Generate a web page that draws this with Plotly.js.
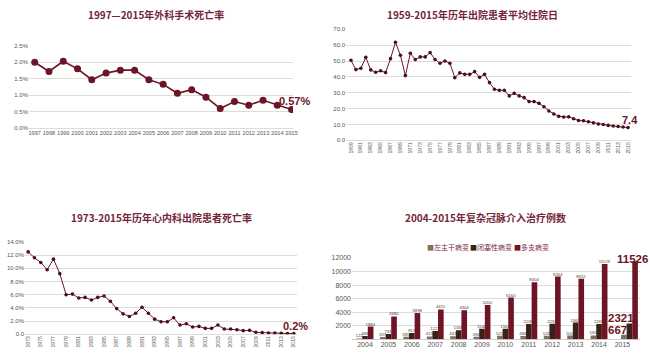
<!DOCTYPE html>
<html>
<head>
<meta charset="utf-8">
<script src="https://cdn.plot.ly/plotly-3.0.1.min.js"></script>
<style>
html,body{margin:0;padding:0;background:#fff;}
#chart{width:650px;height:358px;}
</style>
</head>
<body>
<div id="chart"></div>
<script>
// ---- Chart 1: 1997-2015 surgical mortality (%)
var years1 = [1997,1998,1999,2000,2001,2002,2003,2004,2005,2006,2007,2008,2009,2010,2011,2012,2013,2014,2015];
var surgMort = [2.0,1.72,2.03,1.8,1.47,1.67,1.76,1.76,1.47,1.33,1.06,1.17,0.94,0.6,0.81,0.7,0.85,0.7,0.57];
var surgLabel = "0.57%";

// ---- Chart 2: 1959-2015 average length of stay (days)
var years2 = [];
for (var y = 1959; y <= 2015; y++) years2.push(y);
var stayDays = [50.5,44.6,45.4,52.3,44.4,42.9,43.9,42.7,51.5,61.8,53.6,40.8,54.9,50.9,52.6,52.6,55.3,51.0,48.6,50.0,
                48.6,39.5,42.5,41.6,41.6,43.3,39.7,41.6,36.4,32.2,31.5,31.5,28.0,29.6,28.0,26.9,24.4,24.4,23.3,21.2,
                18.5,16.6,15.1,14.7,14.8,13.6,12.5,12.3,11.7,11.0,10.3,10.0,9.4,9.0,8.7,8.4,8.0];
var stayLabel = "7.4";

// ---- Chart 3: 1973-2015 cardiology mortality (%)
var years3 = [];
for (var y3 = 1973; y3 <= 2015; y3++) years3.push(y3);
var cardMort = [12.5,11.6,10.9,9.8,11.4,9.2,6.0,6.1,5.5,5.6,5.2,5.6,5.8,5.0,3.9,3.1,2.7,3.2,4.1,3.2,
                2.3,1.9,1.9,2.5,1.4,1.6,1.1,1.2,0.9,0.9,1.4,0.8,0.8,0.7,0.55,0.6,0.3,0.25,0.2,0.2,0.15,0.12,0.12];
var cardLabel = "0.2%";

// ---- Chart 4: 2004-2015 complex PCI cases
var years4 = [2004,2005,2006,2007,2008,2009,2010,2011,2012,2013,2014,2015];
var seriesNames = ["左主干病变","闭塞性病变","多支病变"];
var leftMain = [122,337,385,415,432,394,521,484,529,550,565,667];
var occlusive = [498,791,913,1221,1330,1548,1563,2245,2291,2463,2265,2321];
var multiVessel = [1884,3380,3898,4411,4304,5050,6160,8404,9264,8922,11129,11526];

var titles = ["1997—2015年外科手术死亡率","1959-2015年历年出院患者平均住院日",
              "1973-2015年历年心内科出院患者死亡率","2004-2015年复杂冠脉介入治疗例数"];

var maroon = "#6b1626";
var titleColor = "#74253a";
var barColors = ["#7f7064","#3c2117","#6e1424"];
var grid = "#dcdcdc";
var tickC = "#555555";
var FONT = "'Noto Sans CJK SC', 'Noto Sans', sans-serif";
var NUMFONT = "'Liberation Sans', Arial, sans-serif";

function every2(arr){ return arr.filter(function(v,i){return i%2===0;}); }

var traces = [];
traces.push({x:years1, y:surgMort, xaxis:'x', yaxis:'y', type:'scatter', mode:'lines+markers',
  line:{color:maroon, width:1.6}, marker:{color:maroon, size:7}, hoverinfo:'none'});
traces.push({x:years2, y:stayDays, xaxis:'x2', yaxis:'y2', type:'scatter', mode:'lines+markers',
  line:{color:maroon, width:1}, marker:{color:'#4a0f1a', size:3.6}, hoverinfo:'none'});
traces.push({x:years3, y:cardMort, xaxis:'x3', yaxis:'y3', type:'scatter', mode:'lines+markers',
  line:{color:maroon, width:1}, marker:{color:'#4a0f1a', size:3.6}, hoverinfo:'none'});

// grouped bars; the final (2015) group is nudged right to leave room for its callouts
var barW = 0.24, lastShift = 0.3;
var barSeries = [leftMain, occlusive, multiVessel];
barSeries.forEach(function(vals, k){
  var base = -0.36 + k*barW;
  traces.push({x:years4, y:vals, xaxis:'x4', yaxis:'y4', type:'bar', name:seriesNames[k],
    marker:{color:barColors[k]}, width:barW,
    offset: vals.map(function(v,i){ return i === vals.length-1 ? base + lastShift : base; }),
    text: vals.map(function(v,i){ return i === vals.length-1 ? '' : String(v); }),
    textposition:'outside', constraintext:'none', cliponaxis:false,
    textfont:{size:4.3, color:'#444', family:NUMFONT}, hoverinfo:'none'});
});

function px(x){ return x/650; }
function py(y){ return 1 - y/358; }

var axTick = {family:NUMFONT, size:6, color:tickC};

var layout = {
  width:650, height:358,
  margin:{l:0,r:0,t:0,b:0},
  paper_bgcolor:'#fff', plot_bgcolor:'rgba(0,0,0,0)',
  showlegend:false,
  font:{family:FONT},
  barmode:'overlay',
  xaxis:{domain:[px(29),px(293)], range:[1996.6,2015.1], anchor:'y', tickvals:years1,
    ticktext:years1.map(String), tickfont:{family:NUMFONT,size:5.6,color:tickC}, tickangle:0,
    showgrid:false, zeroline:false, showline:false, ticks:''},
  yaxis:{domain:[py(128.3),py(45.7)], range:[0,2.5], anchor:'x', dtick:0.5, tickformat:'.1f', ticksuffix:'%',
    tickfont:axTick, gridcolor:grid, gridwidth:1, zeroline:true, zerolinecolor:grid, showline:false, ticks:''},
  xaxis2:{domain:[px(346),px(631)], range:[1958,2015.6], anchor:'y2', tickvals:every2(years2),
    ticktext:every2(years2).map(String), tickangle:-90, tickfont:{family:NUMFONT,size:5,color:tickC},
    showgrid:false, zeroline:false, showline:false, ticks:''},
  yaxis2:{domain:[py(140.3),py(29.3)], range:[0,70], anchor:'x2', dtick:10, tickformat:'.1f',
    tickfont:axTick, gridcolor:grid, zeroline:true, zerolinecolor:grid, showline:false, ticks:''},
  xaxis3:{domain:[px(25),px(297)], range:[1972.5,2015.5], anchor:'y3', tickvals:every2(years3),
    ticktext:every2(years3).map(String), tickangle:-90, tickfont:{family:NUMFONT,size:5,color:tickC},
    showgrid:false, zeroline:false, showline:false, ticks:''},
  yaxis3:{domain:[py(334.3),py(242)], range:[0,14], anchor:'x3', tickvals:[0,2,4,6,8,10,12,14],
    ticktext:['0.0','2.0%','4.0%','6.0%','8.0%','10.0%','12.0%','14.0%'],
    tickfont:axTick, gridcolor:grid, zeroline:true, zerolinecolor:grid, showline:false, ticks:''},
  xaxis4:{domain:[px(352),px(640)], range:[2003.444,2015.75], anchor:'y4', tickvals:years4,
    ticktext:years4.map(String), tickfont:{family:NUMFONT,size:7,color:tickC},
    showgrid:false, zeroline:false, showline:false, ticks:''},
  yaxis4:{domain:[py(339.3),py(258)], range:[0,12000], anchor:'x4', tickvals:[2000,4000,6000,8000,10000,12000],
    ticktext:['2000','4000','6000','8000','10000','12000'],
    tickfont:{family:NUMFONT,size:7,color:tickC}, gridcolor:grid, zeroline:true, zerolinecolor:'#cfcfcf', showline:false, ticks:''},
  annotations:[]
};

// Titles
var titlePos = [[156,14],[473,14],[161,217],[485,217]];
titles.forEach(function(t,i){
  layout.annotations.push({text:'<b>'+t+'</b>', xref:'paper', yref:'paper', x:px(titlePos[i][0]), y:py(titlePos[i][1]),
    xanchor:'center', yanchor:'middle', showarrow:false, font:{family:FONT, size:10, color:titleColor}});
});

// End-value callouts (anchored to the final data points)
var callFont = {family:NUMFONT, size:11, color:maroon};
layout.annotations.push({text:'<b>'+surgLabel+'</b>', xref:'x', yref:'y', x:years1[years1.length-1],
  y:surgMort[surgMort.length-1], xanchor:'center', yanchor:'middle', xshift:3, yshift:8.5, showarrow:false,
  font:callFont});
layout.annotations.push({text:'<b>'+stayLabel+'</b>', xref:'x2', yref:'y2', x:years2[years2.length-1],
  y:stayDays[stayDays.length-1], xanchor:'center', yanchor:'middle', xshift:2, yshift:8, showarrow:false,
  font:callFont});
layout.annotations.push({text:'<b>'+cardLabel+'</b>', xref:'x3', yref:'y3', x:years3[years3.length-1],
  y:cardMort[cardMort.length-1], xanchor:'center', yanchor:'middle', xshift:2, yshift:7.5, showarrow:false,
  font:callFont});

// 2015 bar callouts
var last = years4.length-1;
var bigFont = {family:NUMFONT, size:11.5, color:maroon};
layout.annotations.push({text:'<b>'+multiVessel[last]+'</b>', xref:'x4', yref:'y4', x:years4[last],
  y:multiVessel[last], xanchor:'left', yanchor:'middle', xshift:-6, yshift:2, showarrow:false, font:bigFont, borderpad:0});
layout.annotations.push({text:'<b>'+occlusive[last]+'</b>', xref:'x4', yref:'y4', x:years4[last],
  y:occlusive[last], xanchor:'left', yanchor:'middle', xshift:-15, yshift:6, showarrow:false, font:bigFont, borderpad:0});
layout.annotations.push({text:'<b>'+leftMain[last]+'</b>', xref:'x4', yref:'y4', x:years4[last],
  y:leftMain[last], xanchor:'left', yanchor:'middle', xshift:-15, yshift:4.5, showarrow:false, font:bigFont, borderpad:0});

// Legend for bar chart
var legX = [425, 468, 512];
seriesNames.forEach(function(n,i){
  layout.annotations.push({text:'<span style="color:'+barColors[i]+'">■</span>'+n, xref:'paper', yref:'paper',
    x:px(legX[i]), y:py(247), xanchor:'left', yanchor:'middle', showarrow:false,
    font:{family:FONT,size:7,color:'#7a2a3b'}});
});

Plotly.newPlot('chart', traces, layout, {staticPlot:true, displayModeBar:false});
</script>
</body>
</html>
